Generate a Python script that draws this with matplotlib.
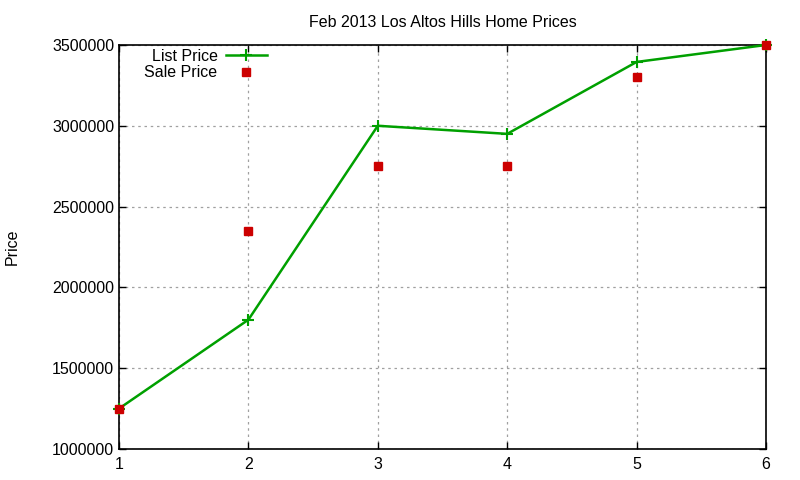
import matplotlib
matplotlib.use('Agg')
import matplotlib.pyplot as plt

x = [1, 2, 3, 4, 5, 6]
list_price = [1250000, 1800000, 3000000, 2950000, 3395000, 3500000]
sale_price = [1250000, 2350000, 2750000, 2750000, 3300000, 3500000]
yticks = [1000000, 1500000, 2000000, 2500000, 3000000, 3500000]

plt.rcParams['font.family'] = ['Liberation Sans', 'DejaVu Sans']
plt.rcParams['font.size'] = 11.5

fig = plt.figure(figsize=(8, 4.8), dpi=100)
ax = fig.add_axes([0.14875, 0.0646, 0.80875, 0.8417])

ax.plot(x, list_price, color='#00a000', lw=1.8, marker='+', ms=8, mew=1.5,
        label='List Price', clip_on=False, zorder=3)
ax.plot(x, sale_price, ls='none', color='#cc0000', marker='s', ms=5.5,
        label='Sale Price', clip_on=False, zorder=4)

ax.set_xlim(1, 6)
ax.set_ylim(1000000, 3500000)
ax.set_xticks(x)
ax.set_yticks(yticks)
ax.set_yticklabels([str(v) for v in yticks])
ax.tick_params(direction='in', top=True, right=True, length=5, width=1, labelsize=11.5)
ax.tick_params(axis='x', pad=6)
ax.grid(True, color='#a0a0a0', ls=(0, (2, 3)), lw=0.9)
for s in ax.spines.values():
    s.set_linewidth(1.2)

ax.set_title('Feb 2013 Los Altos Hills Home Prices', fontsize=11.5, pad=13)
fig.text(0.015, 0.4854, 'Price', rotation=90, ha='center', va='center', fontsize=11.5)

ax.legend(loc='upper left', bbox_to_anchor=(0.022, 1.018), frameon=False, markerfirst=False,
          fontsize=11.5, handlelength=2.6, labelspacing=0.1, borderaxespad=0.3,
          handletextpad=0.5)

fig.savefig('out.png', dpi=100)
